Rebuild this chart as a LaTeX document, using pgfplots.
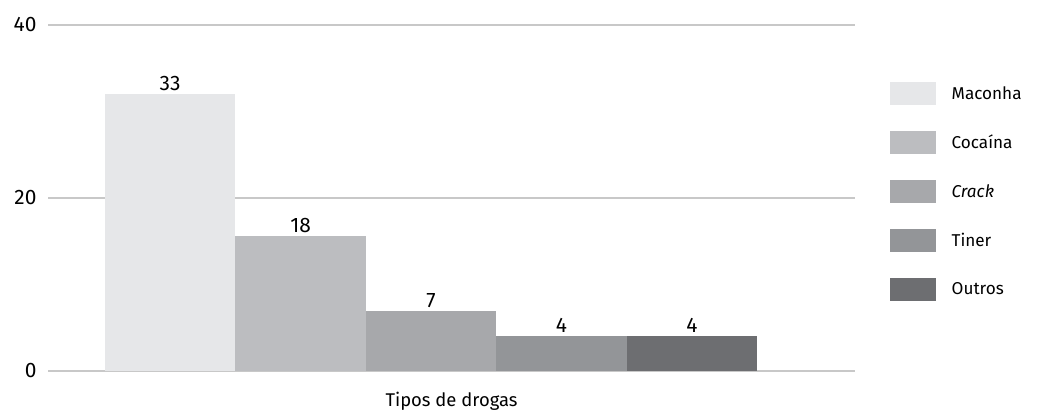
\documentclass[border=0pt]{standalone}
\usepackage{pgfplots}
\pgfplotsset{compat=1.18}
\usepackage{fontspec}
\setmainfont{Fira Sans}

\definecolor{cMac}{HTML}{E6E7E9}
\definecolor{cCoc}{HTML}{BCBDC0}
\definecolor{cCra}{HTML}{A7A8AB}
\definecolor{cTin}{HTML}{939598}
\definecolor{cOut}{HTML}{6D6E71}
\definecolor{gridgray}{HTML}{C8C8C8}

\begin{document}
\begin{tikzpicture}
\useasboundingbox (0bp,0bp) rectangle (1037bp,-413bp);
\begin{axis}[
    at={(48bp,-371bp)}, anchor=south west,
    scale only axis, width=807bp, height=346bp,
    xmin=-0.936, xmax=5.25,
    ymin=0, ymax=40,
    ytick={0,20,40}, xtick=\empty,
    axis x line*=bottom, axis y line*=left,
    y axis line style={draw=none},
    x axis line style={draw=gridgray, line width=1.6bp},
    ymajorgrids=true,
    grid style={draw=gridgray, line width=1.2bp},
    major tick length=0pt,
    font=\fontsize{18.5}{22}\selectfont,
    yticklabel style={xshift=-8bp, font=\fontsize{21}{24}\selectfont},
    /pgf/number format/assume math mode=true,
    xlabel={Tipos de drogas},
    xlabel style={yshift=-18bp},
    ybar, bar width=1, bar shift=0pt,
    point meta=explicit,
    nodes near coords,
    nodes near coords style={font=\fontsize{21}{24}\selectfont, text=black},
    legend image code/.code={\fill[#1] (0bp,-11.5bp) rectangle (46bp,11.5bp);
        \path[draw=none, fill=none] (0bp,0bp) -- (60bp,0bp);},
    legend style={at={(axis description cs:1.039,0.841)}, anchor=north west,
        draw=none, fill=none, row sep=26bp,
        font=\fontsize{17.2}{20}\selectfont,
        nodes={inner sep=2bp}},
    legend cell align=left,
]
\addplot[fill=cMac, draw=none] coordinates {(0,32.0) [33]};
\addlegendentry{Maconha}
\addplot[fill=cCoc, draw=none] coordinates {(1,15.6) [18]};
\addlegendentry{Cocaína}
\addplot[fill=cCra, draw=none] coordinates {(2,6.9) [7]};
\addlegendentry{\textit{Crack}}
\addplot[fill=cTin, draw=none] coordinates {(3,4.05) [4]};
\addlegendentry{Tiner}
\addplot[fill=cOut, draw=none] coordinates {(4,4.05) [4]};
\addlegendentry{Outros}
\end{axis}
\end{tikzpicture}
\end{document}
